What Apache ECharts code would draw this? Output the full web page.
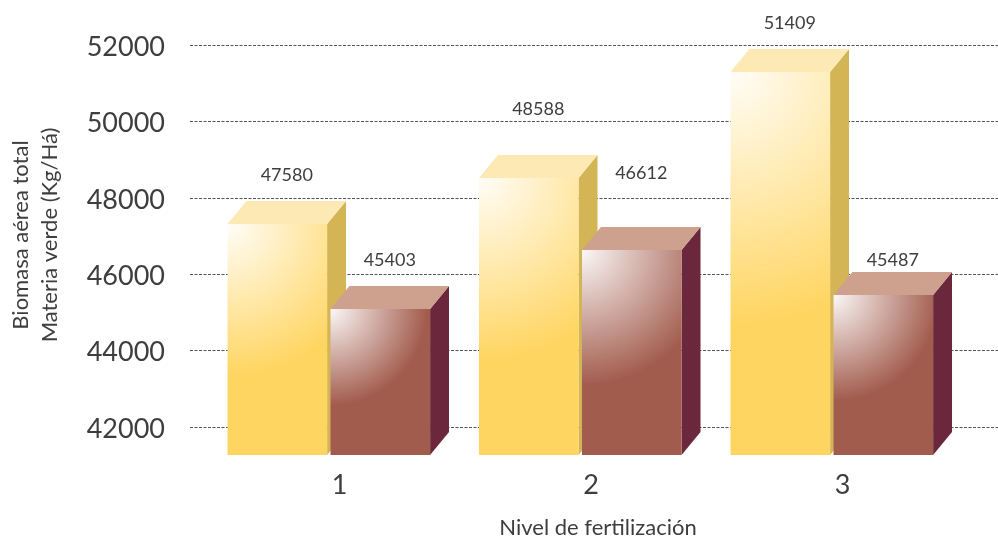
<!DOCTYPE html>
<html>
<head>
<meta charset="utf-8">
<style>html,body{margin:0;padding:0;background:#fff}#c{width:998px;height:537px}</style>
<script src="https://cdn.jsdelivr.net/npm/echarts@6/dist/echarts.min.js"></script>
</head>
<body>
<div id="c"></div>
<script>
// ---- data ----
const categories = ['1', '2', '3'];
const yellowHeights = [47314, 48518, 51293];   // bar tops as drawn
const brownHeights = [45089, 46634, 45455];
const yellowLabels = ['47580', '48588', '51409']; // values as printed
const brownLabels = ['45403', '46612', '45487'];
const yTicks = [42000, 44000, 46000, 48000, 50000, 52000];
const yTitleLines = ['Biomasa aérea total', 'Materia verde (Kg/Há)'];
const xTitle = 'Nivel de fertilización';
const barBase = 41267;

// ---- style ----
const FONT = 'Lato';
const INK = '#3f3d3d';
const yellowStyle = { glow: '#fffdf8', front: '#FFD561', top: '#FDE9B4', side: '#D4B556', shift: -112, lift: [26, 46, 26] };
const brownStyle = { glow: '#fbf8f7', front: '#A25C4D', top: '#CDA18D', side: '#6B283D', shift: -9, lift: [26, 54, 12] };

function renderer(values, labels, st) {
  return function (params, api) {
    const i = api.value(0);
    const band = api.size([1, 0])[0];
    const w = band * 0.396, dx = w * 0.19, dy = w * 0.23;
    const c = api.coord([i, values[i]]);
    const b = api.coord([i, barBase]);
    const x = c[0] + band * st.shift / 251.5, y = c[1], h = b[1] - c[1];
    return {
      type: 'group',
      children: [
        { type: 'polygon', shape: { points: [[x + w, y], [x + w + dx, y - dy], [x + w + dx, y + h - dy], [x + w, y + h]] }, style: { fill: st.side } },
        { type: 'polygon', shape: { points: [[x, y], [x + dx, y - dy], [x + w + dx, y - dy], [x + w, y]] }, style: { fill: st.top } },
        { type: 'rect', shape: { x: x, y: y, width: w, height: h }, style: { fill: {
            type: 'radial', x: 0, y: 0, r: 0.66 * h / w, global: false,
            colorStops: [{ offset: 0, color: st.glow }, { offset: 1, color: st.front }]
        } } },
        { type: 'text', style: { text: labels[i], x: x + (w + dx) / 2, y: y - dy - st.lift[i],
            align: 'center', verticalAlign: 'middle', fill: INK, font: '18px ' + FONT } }
      ]
    };
  };
}

const gridTop = 45, pxPerUnit = 382 / 10000;
const chart = echarts.init(document.getElementById('c'), null, { renderer: 'canvas' });
chart.setOption({
  animation: false,
  backgroundColor: '#fff',
  grid: [
    { left: 190, right: 0, top: gridTop, height: 12000 * pxPerUnit, outerBoundsMode: 'none' },
    { left: 213.75, right: 29.75, top: gridTop, bottom: 82, outerBoundsMode: 'none' }
  ],
  xAxis: [
    { type: 'category', gridIndex: 0, show: false, data: categories },
    { type: 'category', gridIndex: 1, data: categories,
      axisLine: { show: false }, axisTick: { show: false },
      axisLabel: { color: INK, fontFamily: FONT, fontSize: 27, margin: 17 },
      name: xTitle, nameLocation: 'middle', nameGap: 62,
      nameTextStyle: { color: INK, fontFamily: FONT, fontSize: 22, padding: [0, 0, 0, 14] } }
  ],
  yAxis: [
    { type: 'value', gridIndex: 0, min: 40000, max: yTicks[yTicks.length - 1], interval: 2000,
      axisLine: { show: false }, axisTick: { show: false },
      axisLabel: { color: INK, fontFamily: FONT, fontSize: 27, margin: 25, showMinLabel: false,
        formatter: v => '{t|' + v + '}',
        rich: { t: { color: INK, fontFamily: FONT, fontSize: 27, padding: [4, 0, 0, 0] } } },
      splitLine: { show: true, showMinLine: false, lineStyle: { color: '#555', width: 1, type: [3, 1.5] } } },
    { type: 'value', gridIndex: 1, show: false, min: barBase, max: yTicks[yTicks.length - 1] }
  ],
  series: [
    { name: 'A', type: 'custom', xAxisIndex: 1, yAxisIndex: 1, data: yellowHeights.map((v, i) => [i, v]),
      encode: { x: 0, y: 1 }, renderItem: renderer(yellowHeights, yellowLabels, yellowStyle), z: 3 },
    { name: 'B', type: 'custom', xAxisIndex: 1, yAxisIndex: 1, data: brownHeights.map((v, i) => [i, v]),
      encode: { x: 0, y: 1 }, renderItem: renderer(brownHeights, brownLabels, brownStyle), z: 4 }
  ],
  graphic: yTitleLines.map((t, i) => ({
    type: 'text', x: 21 + i * 29, y: 235, rotation: Math.PI / 2,
    style: { text: t, align: 'center', verticalAlign: 'middle', fill: INK, font: '22px ' + FONT }
  }))
});
</script>
</body>
</html>
